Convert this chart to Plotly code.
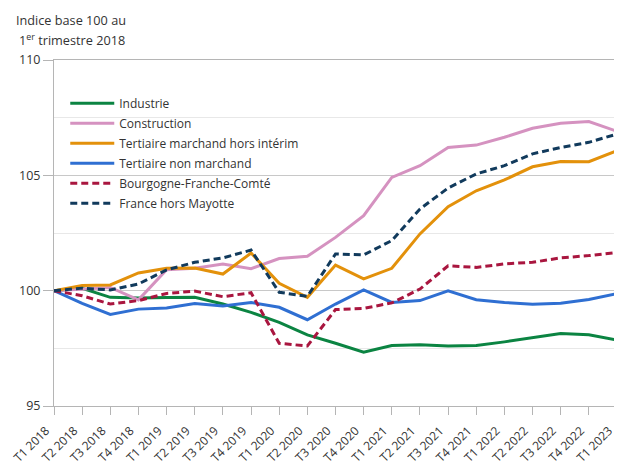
import plotly.graph_objects as go

quarters = ["T1 2018", "T2 2018", "T3 2018", "T4 2018", "T1 2019", "T2 2019", "T3 2019", "T4 2019",
            "T1 2020", "T2 2020", "T3 2020", "T4 2020", "T1 2021", "T2 2021", "T3 2021", "T4 2021",
            "T1 2022", "T2 2022", "T3 2022", "T4 2022", "T1 2023"]

industrie = [100.0, 100.1, 99.71, 99.68, 99.7, 99.71, 99.42, 99.06, 98.63, 98.08, 97.72, 97.33,
             97.62, 97.65, 97.6, 97.62, 97.78, 97.95, 98.14, 98.09, 97.86]
construction = [100.0, 100.07, 100.14, 99.6, 100.91, 100.97, 101.16, 100.95, 101.39, 101.49, 102.31,
                103.25, 104.91, 105.42, 106.21, 106.31, 106.65, 107.04, 107.26, 107.33, 106.91]
tertiaire_marchand = [100.0, 100.22, 100.25, 100.77, 100.97, 100.98, 100.72, 101.63, 100.32, 99.71,
                      101.11, 100.51, 100.97, 102.46, 103.64, 104.33, 104.8, 105.37, 105.6, 105.59, 106.07]
tertiaire_non_marchand = [100.0, 99.45, 98.97, 99.2, 99.25, 99.44, 99.34, 99.49, 99.28, 98.74, 99.42,
                          100.03, 99.49, 99.57, 99.99, 99.61, 99.49, 99.41, 99.45, 99.62, 99.87]
bfc = [100.0, 99.78, 99.42, 99.57, 99.88, 99.98, 99.74, 99.91, 97.72, 97.6, 99.18, 99.23, 99.47,
       100.07, 101.08, 101.01, 101.16, 101.23, 101.42, 101.52, 101.66]
france = [100.0, 100.11, 100.03, 100.29, 100.9, 101.23, 101.42, 101.76, 99.93, 99.75, 101.59, 101.55,
          102.17, 103.54, 104.45, 105.06, 105.42, 105.93, 106.21, 106.43, 106.79]

series = [
    ("Industrie", industrie, "#0b8442", "solid"),
    ("Construction", construction, "#d592c0", "solid"),
    ("Tertiaire marchand hors intérim", tertiaire_marchand, "#e3910b", "solid"),
    ("Tertiaire non marchand", tertiaire_non_marchand, "#2f6fd2", "solid"),
    ("Bourgogne-Franche-Comté", bfc, "#a9163f", "7px,4px"),
    ("France hors Mayotte", france, "#113a5c", "7px,4px"),
]

fig = go.Figure()
for i, (name, vals, color, dash) in enumerate(series):
    fig.add_trace(go.Scatter(x=quarters, y=vals, name=name, mode="lines",
                             line=dict(color=color, width=3, dash=dash),
                             legendgroup=f"g{i}"))

# page body adds an 8px offset; figure is sized/margined to compensate
fig.update_layout(
    width=614, height=457,
    margin=dict(l=46, r=5, t=52, b=59),
    paper_bgcolor="white", plot_bgcolor="white",
    font=dict(family="Open Sans", size=12, color="#333333"),
    showlegend=True,
    legend=dict(x=0.02, y=0.917, xanchor="left", yanchor="top",
                bgcolor="rgba(0,0,0,0)", font=dict(size=12, color="#333333"),
                tracegroupgap=1, itemwidth=44),
    xaxis=dict(type="category", range=[0, 20], tickangle=-45, ticks="outside", ticklen=8,
               tickcolor="#b5b5b5", showline=True, linecolor="#b5b5b5", linewidth=1,
               mirror=True, showgrid=False, automargin=False,
               ticklabelshift=-8, ticklabelstandoff=4,
               tickfont=dict(size=12, color="#333333")),
    yaxis=dict(range=[95, 110], tickvals=[95, 100, 105, 110], ticks="outside", ticklen=10,
               tickcolor="#b5b5b5", showline=True, linecolor="#b5b5b5", linewidth=1,
               mirror=True, showgrid=True, gridcolor="#c8c8c8", gridwidth=1, automargin=False,
               zeroline=False, tickfont=dict(size=12.5, color="#333333"),
               minor=dict(dtick=2.5, tick0=95, showgrid=True, gridcolor="#e8e8e8", gridwidth=1)),
)

fig.add_annotation(text="Indice base 100 au", xref="paper", yref="paper",
                   x=-40/563, y=1 + 51/346, xanchor="left", yanchor="top", align="left",
                   showarrow=False, font=dict(size=12.7, color="#333333"))
fig.add_annotation(text="1<sup>er</sup> trimestre 2018", xref="paper", yref="paper",
                   x=-37/563, y=1 + 31/346, xanchor="left", yanchor="top", align="left",
                   showarrow=False, font=dict(size=12.7, color="#333333"))

fig.write_html("out.html")
